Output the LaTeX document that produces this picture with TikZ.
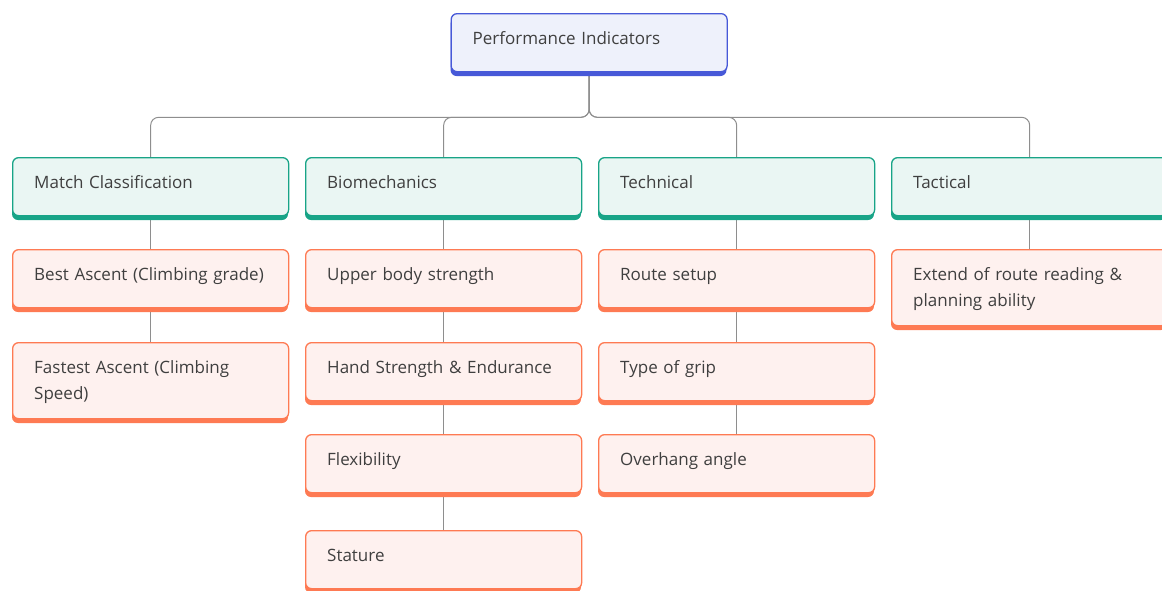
\documentclass[tikz,border=0pt]{standalone}
\usepackage{fontspec}
\setmainfont{Open Sans}
\pgfdeclarelayer{background}
\pgfsetlayers{background,main}
\definecolor{rootfill}{HTML}{EEF1FB}
\definecolor{rootline}{HTML}{4759D8}
\definecolor{tealfill}{HTML}{EAF6F3}
\definecolor{tealline}{HTML}{18A487}
\definecolor{orfill}{HTML}{FEF1EF}
\definecolor{orline}{HTML}{FE7A53}
\definecolor{linkgray}{HTML}{8E8E8E}
\definecolor{ink}{HTML}{3F3F3F}
\tikzset{
  cardbox/.style={draw, line width=1.3pt, rounded corners=6pt, minimum width=276pt,
    anchor=north west, inner sep=0pt},
  rootcard/.style={cardbox, draw=rootline, fill=rootfill},
  rootcardshade/.style={fill=rootline, rounded corners=6pt},
  tealcard/.style={cardbox, draw=tealline, fill=tealfill},
  tealcardshade/.style={fill=tealline, rounded corners=6pt},
  orngcard/.style={cardbox, draw=orline, fill=orfill},
  orngcardshade/.style={fill=orline, rounded corners=6pt},
  cardtext/.style={anchor=base west, inner sep=0pt, text width=250pt, align=left,
    text=ink, font=\fontsize{17}{26}\selectfont},
  link/.style={draw=linkgray, line width=1pt},
  bus/.style={link, rounded corners=8pt}
}
% card: name, kind, x, y, height, text
\newcommand\card[6]{%
  \fill[#2shade] (#3,#4+5) rectangle ++(276,#5);
  \node[#2, minimum height=#5 pt] (#1) at (#3,#4) {};
  \node[cardtext] (#1-t) at (#3+22,#4+31) {#6};
}
\begin{document}
\begin{tikzpicture}[x=1pt,y=-1pt]
\useasboundingbox (0,0) rectangle (1162,590);
\clip (0,0) rectangle (1162,590);

% root
\card{root}{rootcard}{450.5}{13}{58}{Performance Indicators}

% categories
\card{mc}{tealcard}{12}{157}{58}{Match Classification}
\card{bio}{tealcard}{305}{157}{58}{Biomechanics}
\card{tech}{tealcard}{598}{157}{58}{Technical}
\card{tac}{tealcard}{891}{157}{58}{Tactical}

% match classification
\card{best}{orngcard}{12}{249}{58}{Best Ascent (Climbing grade)}
\card{fast}{orngcard}{12}{342}{76}{Fastest Ascent (Climbing\\Speed)}

% biomechanics
\card{upper}{orngcard}{305}{249}{58}{Upper body strength}
\card{hand}{orngcard}{305}{342}{58}{Hand Strength \& Endurance}
\card{flex}{orngcard}{305}{434}{58}{Flexibility}
\card{stat}{orngcard}{305}{530}{58}{Stature}

% technical
\card{route}{orngcard}{598}{249}{58}{Route setup}
\card{grip}{orngcard}{598}{342}{58}{Type of grip}
\card{over}{orngcard}{598}{434}{58}{Overhang angle}

% tactical
\card{read}{orngcard}{891}{249}{76}{Extend of route reading \&\\planning ability}

\begin{pgfonlayer}{background}
  \foreach \c in {mc,bio,tech,tac}
    \draw[bus] (root.south) -- ++(0,45) -| (\c.north);
  \draw[link] (mc.south) -- (best.north);
  \draw[link] (best.south) -- (fast.north);
  \draw[link] (bio.south) -- (upper.north);
  \draw[link] (upper.south) -- (hand.north);
  \draw[link] (hand.south) -- (flex.north);
  \draw[link] (flex.south) -- (stat.north);
  \draw[link] (tech.south) -- (route.north);
  \draw[link] (route.south) -- (grip.north);
  \draw[link] (grip.south) -- (over.north);
  \draw[link] (tac.south) -- (read.north);
\end{pgfonlayer}
\end{tikzpicture}
\end{document}
